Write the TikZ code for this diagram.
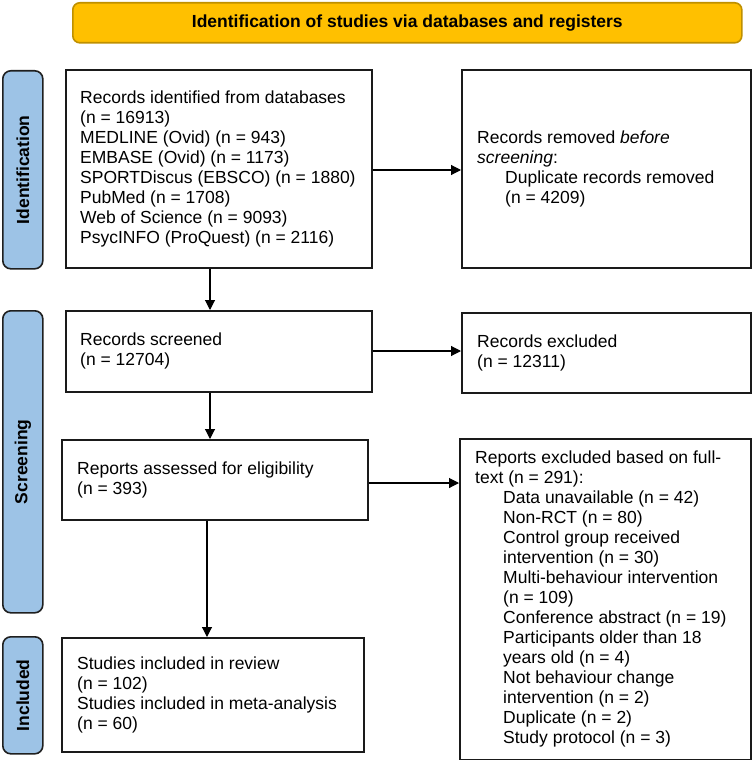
\documentclass[tikz,border=0pt]{standalone}
\usepackage{fontspec}
\setmainfont{Liberation Sans}
\usetikzlibrary{arrows.meta}
\definecolor{bannerfill}{HTML}{FFC000}
\definecolor{bannerdraw}{HTML}{BF9000}
\definecolor{sidefill}{HTML}{9DC3E6}
\definecolor{sidedraw}{HTML}{1F1F1F}
\definecolor{boxdraw}{HTML}{1A1A1A}
\begin{document}
\begin{tikzpicture}[x=1pt,y=-1pt,
  box/.style={draw=boxdraw, line width=1.6pt, fill=white, inner sep=0pt, anchor=north west},
  txt/.style={align=left, inner sep=0pt, font=\fontsize{17.5}{20}\selectfont, anchor=west},
  side/.style={draw=sidedraw, fill=sidefill, line width=1.6pt, rounded corners=8pt, inner sep=0pt, anchor=north west},
  sidetxt/.style={rotate=90, font=\bfseries\fontsize{17.5}{20}\selectfont, inner sep=0pt},
  banner/.style={draw=bannerdraw, fill=bannerfill, line width=1.6pt, rounded corners=7pt, inner sep=0pt, anchor=north west},
  arr/.style={draw=black, line width=1.1pt, -{Triangle[length=10pt,width=10pt]}},
]
\useasboundingbox (0,0) rectangle (752,760);

% banner
\node[banner, minimum width=669pt, minimum height=40pt] (ban) at (72,2) {};
\node[font=\bfseries\fontsize{17.5}{20}\selectfont, inner sep=0pt] (bant) at (ban.center) {Identification of studies via databases and registers};

% side labels
\node[side, minimum width=40pt, minimum height=198pt] (sid) at (2,70) {};
\node[sidetxt] (sidt) at (sid.center) {Identification};
\node[side, minimum width=40pt, minimum height=302pt] (sscr) at (2,310) {};
\node[sidetxt] (sscrt) at (sscr.center) {Screening};
\node[side, minimum width=40pt, minimum height=117pt] (sinc) at (2,636) {};
\node[sidetxt] (sinct) at (sinc.center) {Included};

% boxes
\node[box, minimum width=306pt, minimum height=198pt] (b1) at (65,69) {};
\node[txt] (t1) at ([xshift=15pt]b1.west) {Records identified from databases\\(n = 16913)\\MEDLINE (Ovid) (n = 943)\\EMBASE (Ovid) (n = 1173)\\SPORTDiscus (EBSCO) (n = 1880)\\PubMed (n = 1708)\\Web of Science (n = 9093)\\PsycINFO (ProQuest) (n = 2116)};

\node[box, minimum width=289pt, minimum height=198pt] (b2) at (461,69) {};
\node[txt] (t2) at ([xshift=16pt]b2.west) {Records removed \textit{before}\\\textit{screening}:\\\hspace*{28pt}Duplicate records removed\\\hspace*{28pt}(n = 4209)};

\node[box, minimum width=306pt, minimum height=81pt] (b3) at (65,310) {};
\node[txt] (t3) at ([xshift=15pt]b3.west) {Records screened\\(n = 12704)};

\node[box, minimum width=289pt, minimum height=80pt] (b4) at (461,312) {};
\node[txt] (t4) at ([xshift=16pt]b4.west) {Records excluded\\(n = 12311)};

\node[box, minimum width=306pt, minimum height=80pt] (b5) at (61,439) {};
\node[txt] (t5) at ([xshift=16pt]b5.west) {Reports assessed for eligibility\\(n = 393)};

\node[box, minimum width=291pt, minimum height=321pt] (b6) at (459,438) {};
\node[txt] (t6) at ([xshift=16pt]b6.west) {Reports excluded based on full-\\text (n = 291):\\
\hspace*{28pt}Data unavailable (n = 42)\\
\hspace*{28pt}Non-RCT (n = 80)\\
\hspace*{28pt}Control group received\\
\hspace*{28pt}intervention (n = 30)\\
\hspace*{28pt}Multi-behaviour intervention\\
\hspace*{28pt}(n = 109)\\
\hspace*{28pt}Conference abstract (n = 19)\\
\hspace*{28pt}Participants older than 18\\
\hspace*{28pt}years old (n = 4)\\
\hspace*{28pt}Not behaviour change\\
\hspace*{28pt}intervention (n = 2)\\
\hspace*{28pt}Duplicate (n = 2)\\
\hspace*{28pt}Study protocol (n = 3)};

\node[box, minimum width=302pt, minimum height=114pt] (b7) at (61,637) {};
\node[txt] (t7) at ([xshift=16pt]b7.west) {Studies included in review\\(n = 102)\\Studies included in meta-analysis\\(n = 60)};

% connector guides
\coordinate (xa) at (210,0);
\coordinate (xb) at (207,0);
\coordinate (ya) at (0,170);
\coordinate (yb) at (0,351);
\coordinate (yc) at (0,483);

\draw[arr] (b1.south -| xa) -- (b3.north -| xa);
\draw[arr] (b3.south -| xa) -- (b5.north -| xa);
\draw[arr] (b5.south -| xb) -- (b7.north -| xb);
\draw[arr] (b1.east |- ya) -- (b2.west |- ya);
\draw[arr] (b3.east |- yb) -- (b4.west |- yb);
\draw[arr] (b5.east |- yc) -- (b6.west |- yc);
\end{tikzpicture}
\end{document}
